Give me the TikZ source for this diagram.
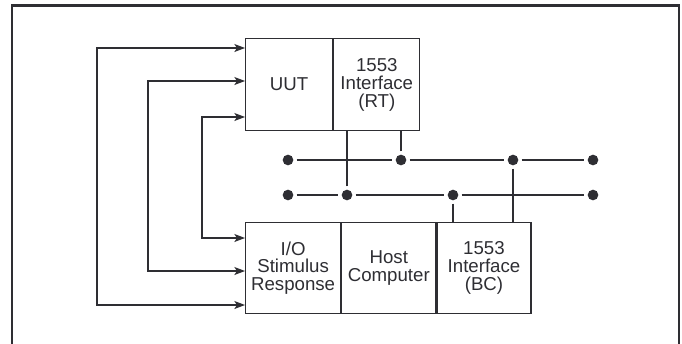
\documentclass[tikz,border=0pt]{standalone}
\usepackage{fontspec}
\setmainfont{Liberation Sans}
\usetikzlibrary{arrows.meta}
\usetikzlibrary{calc}
\usetikzlibrary{positioning}

\definecolor{ink}{HTML}{2E2E33}

\tikzset{
  block/.style = {draw=ink, line width=0.9pt, rectangle, inner sep=0pt,
                  align=center, text=ink, minimum height=69pt,
                  font=\fontsize{14}{13.4}\selectfont},
  link/.style  = {draw=ink, line width=0.9pt, {Stealth[length=8pt,width=6pt,inset=2pt]}-{Stealth[length=8pt,width=6pt,inset=2pt]}},
  bus/.style   = {draw=ink, line width=0.9pt},
  busdot/.style= {circle, fill=ink, inner sep=0pt, minimum size=8pt, outer sep=2.5pt}
}

\begin{document}
\begin{tikzpicture}[x=0.75pt, y=-0.75pt]
            \useasboundingbox (0,0) rectangle (682,343);
            % outer frame, open at the bottom
            \draw[ink, line width=1.9pt] (12,350) -- (12,5.5) -- (679,5.5) -- (679,350);

            % the unit under test
            \node[block, anchor=north west, minimum width=65.25pt] (uut) at (245,38) {UUT};
            \node[block, minimum width=64.5pt, right=0pt of uut] (rt) {1553\\Interface\\(RT)};

            % the tester
            \node[block, anchor=north west, minimum width=71.25pt, minimum height=68.25pt] (io) at (245,222) {I/O\\Stimulus\\Response};
            \node[block, minimum width=70.5pt, minimum height=68.25pt, right=0pt of io] (host) {Host\\Computer};
            \node[block, minimum width=70.5pt, minimum height=68.25pt, right=0pt of host] (bc) {1553\\Interface\\(BC)};

            % the two buses
            \node[busdot] (t1) at (288,160) {};
            \node[busdot] (t2) at (401,160) {};
            \node[busdot] (t3) at (513,160) {};
            \node[busdot] (t4) at (593,160) {};
            \node[busdot] (b1) at (288,195) {};
            \node[busdot] (b2) at (347,195) {};
            \node[busdot] (b3) at (453,195) {};
            \node[busdot] (b4) at (593,195) {};
            \draw[bus] (t1) -- (t2) -- (t3) -- (t4);
            \draw[bus] (b1) -- (b2) -- (b3) -- (b4);

            % stubs to the interfaces
            \draw[bus] (b2) -- (b2 |- rt.south);
            \draw[bus] (t2) -- (t2 |- rt.south);
            \draw[bus] (b3) -- (b3 |- bc.north);
            \draw[bus] (t3) -- (t3 |- bc.north);

            % stimulus and response lines
            \coordinate (u1) at ($(uut.north west)+(0,10)$);
            \coordinate (u2) at ($(uut.north west)+(0,43)$);
            \coordinate (u3) at ($(uut.north west)+(0,79)$);
            \coordinate (s1) at ($(io.north west)+(0,83)$);
            \coordinate (s2) at ($(io.north west)+(0,49)$);
            \coordinate (s3) at ($(io.north west)+(0,16)$);
            \coordinate (l1) at (97,0);
            \coordinate (l2) at (148,0);
            \coordinate (l3) at (202,0);
            \draw[link] (u1) -- (u1 -| l1) -- (s1 -| l1) -- (s1);
            \draw[link] (u2) -- (u2 -| l2) -- (s2 -| l2) -- (s2);
            \draw[link] (u3) -- (u3 -| l3) -- (s3 -| l3) -- (s3);

        \end{tikzpicture}
\end{document}
